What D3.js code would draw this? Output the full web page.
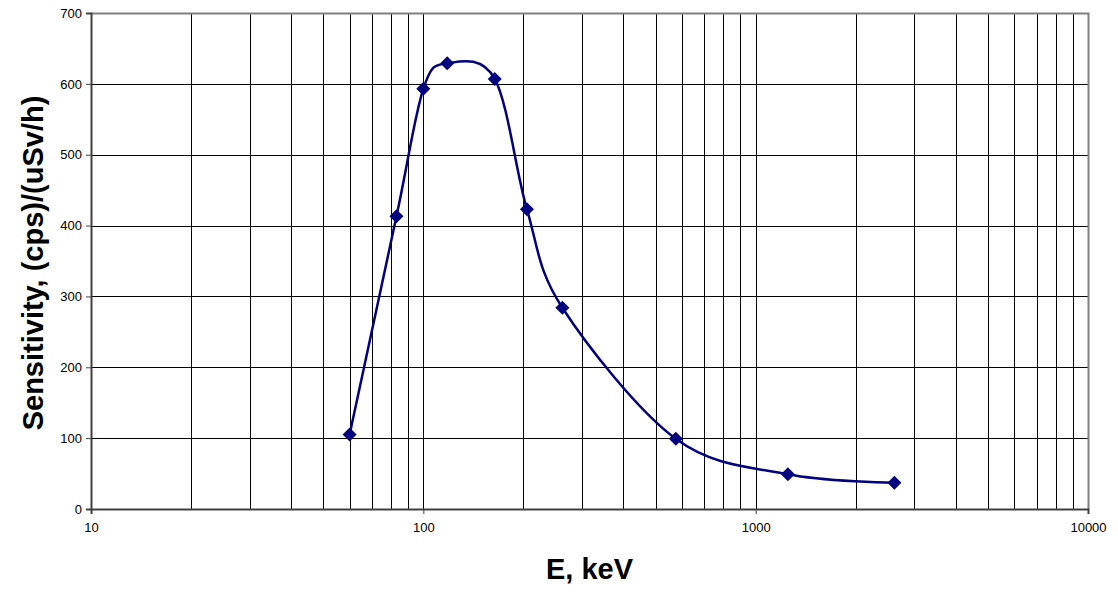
<!DOCTYPE html>
<html>
<head>
<meta charset="utf-8">
<script src="https://cdn.jsdelivr.net/npm/d3@7"></script>
<style>
  body { margin: 0; background: #fff; }
  text { font-family: "Liberation Sans", Arial, sans-serif; }
  .axisText { font-size: 29px; font-weight: bold; fill: #000; }
</style>
</head>
<body>
<div id="chart"></div>
<script>
// data
var energy = [60, 83, 100, 118, 164, 205, 262, 575, 1250, 2615];
var sensitivity = [105, 413, 593, 629, 607, 423, 284, 99, 49, 37];

var xTicks = [10, 100, 1000, 10000];
var yTicks = [0, 100, 200, 300, 400, 500, 600, 700];

var svgWidth = 1118;
var svgHeight = 592;

var margin = {
  top: 13,
  right: 30,
  bottom: 83,
  left: 91
};

var width = svgWidth - margin.left - margin.right;
var height = svgHeight - margin.top - margin.bottom;

var svg = d3.select("#chart")
  .append("svg")
  .attr("width", svgWidth)
  .attr("height", svgHeight);

var chartGroup = svg.append("g")
  .attr("transform", `translate(${margin.left}, ${margin.top})`);

var data = energy.map((e, i) => ({ e: e, s: sensitivity[i] }));

// Scale Functions
var xlogscale = d3.scaleLog()
  .domain([10, 10000])
  .range([0, width]);
var ylinearscale = d3.scaleLinear()
  .domain([0, 700])
  .range([height, 0]);

// minor grid values for the log axis: 1..9 in every decade
var xGrid = [];
[10, 100, 1000].forEach(function(dec) {
  for (var k = 1; k < 10; k++) xGrid.push(dec * k);
});
xGrid.push(10000);

// Grid lines
chartGroup.append("g")
  .selectAll("line")
  .data(xGrid)
  .enter()
  .append("line")
  .attr("x1", d => Math.round(xlogscale(d)) + 0.5)
  .attr("x2", d => Math.round(xlogscale(d)) + 0.5)
  .attr("y1", 0)
  .attr("y2", height)
  .attr("stroke", "#000")
  .attr("stroke-width", 1);

chartGroup.append("g")
  .selectAll("line")
  .data(yTicks)
  .enter()
  .append("line")
  .attr("x1", 0)
  .attr("x2", width)
  .attr("y1", d => Math.round(ylinearscale(d)) + 0.5)
  .attr("y2", d => Math.round(ylinearscale(d)) + 0.5)
  .attr("stroke", "#000")
  .attr("stroke-width", 1);

// top and right border
chartGroup.append("path")
  .attr("d", `M0,0.5H${width}.5V${height}`)
  .attr("fill", "none")
  .attr("stroke", "#808080")
  .attr("stroke-width", 2);

// Axis Functions
var bottomAxis = d3.axisBottom(xlogscale)
  .tickValues(xTicks)
  .tickFormat(d3.format("d"))
  .tickSize(5)
  .tickPadding(9);
var leftAxis = d3.axisLeft(ylinearscale)
  .tickValues(yTicks)
  .tickSize(5)
  .tickPadding(4);

var xAxisG = chartGroup.append("g")
  .attr("transform", `translate(0,${height})`)
  .call(bottomAxis);
var yAxisG = chartGroup.append("g")
  .call(leftAxis);

[xAxisG, yAxisG].forEach(function(g) {
  g.select(".domain").attr("stroke", "#404040").attr("stroke-width", 2);
  g.selectAll(".tick line").attr("stroke", "#404040");
  g.selectAll(".tick text")
    .attr("font-size", "13px")
    .attr("font-family", "Liberation Sans, Arial, sans-serif")
    .attr("fill", "#000");
});

// Line
var line = d3.line()
  .x(d => xlogscale(d.e))
  .y(d => ylinearscale(d.s))
  .curve(d3.curveCardinal.tension(0));

chartGroup.append("path")
  .datum(data)
  .attr("d", line)
  .attr("fill", "none")
  .attr("stroke", "#000080")
  .attr("stroke-width", 2.5);

// Markers
chartGroup.selectAll(".marker")
  .data(data)
  .enter()
  .append("path")
  .attr("class", "marker")
  .attr("d", d3.symbol(d3.symbolSquare, 98))
  .attr("transform", d => `translate(${xlogscale(d.e)},${ylinearscale(d.s)}) rotate(45)`)
  .attr("fill", "#000080");

// Labels
chartGroup.append("text")
  .attr("transform", "rotate(-90)")
  .attr("y", 33 - margin.left)
  .attr("x", 0 - 250)
  .attr("dy", "0.35em")
  .attr("text-anchor", "middle")
  .attr("class", "axisText")
  .text("Sensitivity, (cps)/(uSv/h)");

chartGroup.append("text")
  .attr("transform", `translate(${width / 2}, ${height + 70})`)
  .attr("text-anchor", "middle")
  .attr("class", "axisText")
  .text("E, keV");
</script>
</body>
</html>
